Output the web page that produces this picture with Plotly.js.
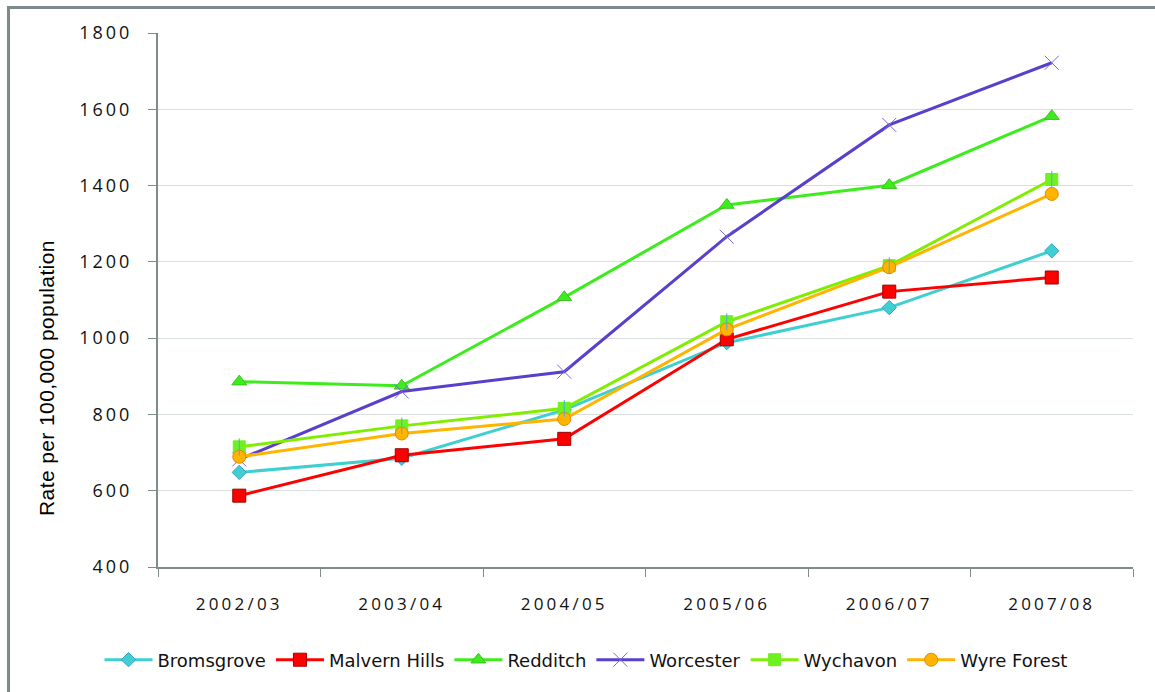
<!DOCTYPE html>
<html>
<head>
<meta charset="utf-8">
<script src="https://cdn.plot.ly/plotly-3.0.1.min.js"></script>
<style>
html,body{margin:0;padding:0;background:#fff;}
#wrap{position:relative;width:1155px;height:692px;}
#chart{width:1155px;height:692px;}
#frame{position:absolute;left:7px;top:6px;right:-10px;bottom:-10px;border-top:3px solid #7b8b8a;border-left:3px solid #7b8b8a;pointer-events:none;}
.xtick text{letter-spacing:3.2px;}
.ytick text{letter-spacing:3px;}
.annotation-text{letter-spacing:0.4px;}
</style>
</head>
<body>
<div id="wrap"><div id="chart"></div><div id="frame"></div></div>
<script>
const categories = ["2002/03","2003/04","2004/05","2005/06","2006/07","2007/08"];
const bromsgrove  = [648, 685, 812, 988, 1080, 1229];
const malvernHills = [587, 693, 736, 997, 1122, 1159];
const redditch    = [886, 875, 1107, 1349, 1401, 1582];
const worcester   = [682, 860, 912, 1266, 1559, 1722];
const wychavon    = [715, 770, 816, 1043, 1190, 1416];
const wyreForest  = [689, 750, 788, 1023, 1186, 1378];
const yTicks = [400, 600, 800, 1000, 1200, 1400, 1600, 1800];

const traces = [
  {name:"Bromsgrove", y:bromsgrove, line:{color:"#3fcfd0",width:3},
   marker:{symbol:"diamond",size:11,color:"#3fcfd0",line:{color:"#3a9fd0",width:1}}},
  {name:"Malvern Hills", y:malvernHills, line:{color:"#ff0000",width:3},
   marker:{symbol:"square",size:13,color:"#ff0000",line:{color:"#a00000",width:1}}},
  {name:"Redditch", y:redditch, line:{color:"#3cec1c",width:3},
   marker:{symbol:"triangle-up",size:13,color:"#3cec1c",line:{color:"#40c020",width:1}}},
  {name:"Worcester", y:worcester, line:{color:"#5a3fcc",width:3},
   marker:{symbol:"x-thin",size:14,color:"#7a66dd",line:{color:"#7a66dd",width:1}}},
  {name:"Wychavon", y:wychavon, line:{color:"#80ee00",width:3},
   marker:{symbol:"square",size:12,color:"#6ff020",line:{color:"#6ff020",width:1}}},
  {name:"Wyre Forest", y:wyreForest, line:{color:"#ffb400",width:3},
   marker:{symbol:"circle",size:13,color:"#ffb400",line:{color:"#e08a00",width:1}}}
].map(t => Object.assign({type:"scatter",mode:"lines+markers",x:categories}, t));

// thin blue stroke on the Wychavon markers
traces.push({type:"scatter",mode:"markers",x:categories,y:wychavon,showlegend:false,hoverinfo:"skip",
  marker:{symbol:"line-ns",size:12,color:"#40b0e0",line:{color:"#40b0e0",width:1}}});

const layout = {
  width:1155, height:692,
  margin:{l:158, r:22, t:33, b:125, autoexpand:false},
  paper_bgcolor:"#ffffff", plot_bgcolor:"#ffffff",
  font:{family:"Open Sans, sans-serif", size:16, color:"#111"},
  showlegend:true,
  legend:{orientation:"h", xref:"container", yref:"container", x:586/1155, xanchor:"center", y:(692-660)/692, yanchor:"middle",
          itemwidth:48, font:{family:"DejaVu Sans, sans-serif", size:18, color:"#111"}, tracegroupgap:0},
  xaxis:{type:"category", range:[-0.5,5.5], tickson:"boundaries", ticks:"outside", ticklen:8, tickwidth:1,
         tickcolor:"#7f8c8c", showline:true, linecolor:"#7f8c8c", linewidth:1.5, showgrid:false, tickangle:0,
         automargin:false,
         ticklabelstandoff:21, tickfont:{family:"Open Sans, sans-serif", size:17, color:"#111"}, fixedrange:true},
  yaxis:{range:[400,1800], tickvals:yTicks, ticktext:yTicks.map(String), ticks:"outside", ticklen:8, tickwidth:1,
         tickcolor:"#7f8c8c", showline:true, linecolor:"#7f8c8c", linewidth:2, showgrid:true, automargin:false,
         gridcolor:"#d9dfdf", gridwidth:1, zeroline:false, ticklabelstandoff:12,
         tickfont:{family:"Open Sans, sans-serif", size:18, color:"#111"}, fixedrange:true},
  annotations:[{text:"Rate per 100,000 population", xref:"paper", yref:"paper",
    x:(46-158)/975, y:(567-378)/534, xanchor:"center", yanchor:"middle", textangle:-90, showarrow:false,
    font:{family:"Liberation Sans, Arial, sans-serif", size:21, color:"#000"}}]
};

Plotly.newPlot("chart", traces, layout, {displayModeBar:false, staticPlot:true});
</script>
</body>
</html>
